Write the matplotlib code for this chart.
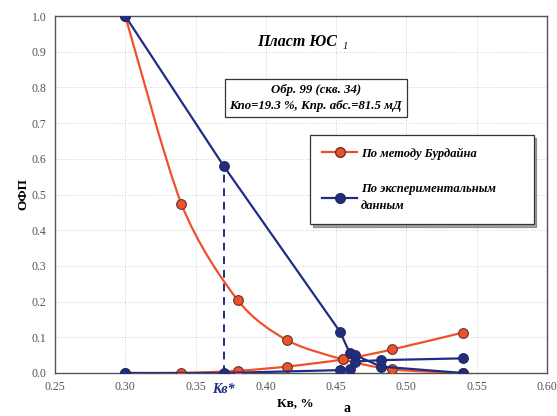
import matplotlib.pyplot as plt
from matplotlib.path import Path
from matplotlib.patches import PathPatch

# данные
kv_burd = [0.30, 0.34, 0.38, 0.415, 0.455, 0.49, 0.54]
kro_burd = [1.0, 0.473, 0.204, 0.092, 0.038, 0.010, 0.0]
krw_burd = [0.0, 0.0, 0.006, 0.018, 0.038, 0.066, 0.113]

kv_exp = [0.30, 0.37, 0.4527, 0.4598, 0.4634, 0.4819, 0.54]
kro_exp = [1.0, 0.58, 0.116, 0.055, 0.050, 0.018, 0.0]
krw_exp = [0.0, 0.0, 0.008, 0.010, 0.032, 0.036, 0.041]

kv_star = 0.37
xticks = [0.25, 0.30, 0.35, 0.40, 0.45, 0.50, 0.55, 0.60]
yticks = [0.0, 0.1, 0.2, 0.3, 0.4, 0.5, 0.6, 0.7, 0.8, 0.9, 1.0]

RED = '#f0502c'
BLUE = '#1f2d86'
serif = 'Liberation Serif'


def smooth_path(x, y, k=1 / 7):
    # сглаженная линия как в Excel (кривые Безье через точки)
    pts = list(zip(x, y))
    n = len(pts)
    verts = [pts[0]]
    codes = [Path.MOVETO]
    for i in range(n - 1):
        p0 = pts[i - 1] if i > 0 else pts[i]
        p1 = pts[i]
        p2 = pts[i + 1]
        p3 = pts[i + 2] if i + 2 < n else pts[i + 1]
        c1 = (p1[0] + (p2[0] - p0[0]) * k, p1[1] + (p2[1] - p0[1]) * k)
        c2 = (p2[0] - (p3[0] - p1[0]) * k, p2[1] - (p3[1] - p1[1]) * k)
        verts += [c1, c2, p2]
        codes += [Path.CURVE4] * 3
    return Path(verts, codes)


fig = plt.figure(figsize=(5.57, 4.16), dpi=100)
ax = fig.add_axes([0.0987, 0.1034, 0.8833, 0.8581])

# красные кривые (метод Бурдайна) - сглаженные
for yy in (kro_burd, krw_burd):
    ax.add_patch(PathPatch(smooth_path(kv_burd, yy), fill=False, edgecolor=RED, lw=1.6, zorder=3))
    ax.plot(kv_burd, yy, ls='none', marker='o', ms=7, mfc=RED, mec='#5a3a2a', mew=0.8, zorder=4)

# синие (эксперимент)
for yy in (kro_exp, krw_exp):
    ax.plot(kv_exp, yy, color=BLUE, lw=1.6, marker='o', ms=7, mfc=BLUE, mec='#2a2a4a', mew=0.8, zorder=5)

ax.plot([kv_star, kv_star], [0, kro_exp[1]], color=BLUE, ls=(0, (4, 3)), lw=1.4, zorder=2)

ax.set_xlim(0.25, 0.60)
ax.set_ylim(0, 1.0)
ax.set_xticks(xticks)
ax.set_yticks(yticks)
ax.set_xticklabels([f'{t:.2f}' for t in xticks], fontfamily=serif, fontsize=8.5, color='#555555')
ax.set_yticklabels([f'{t:.1f}' for t in yticks], fontfamily=serif, fontsize=8.5, color='#555555')
ax.tick_params(length=0, pad=6)
ax.grid(True, color='#d0d0d0', ls=':', lw=0.7)
for s in ax.spines.values():
    s.set_color('#555555')
    s.set_linewidth(1.0)

ax.text(kv_star, -0.045, 'Кв*', color=BLUE, fontfamily=serif, fontweight='bold', fontstyle='italic',
        fontsize=10, ha='center', va='center')

ax.set_ylabel('ОФП', fontfamily=serif, fontweight='bold', fontsize=9.5, labelpad=2)
fig.text(0.53, 0.03, 'Кв, %', fontfamily=serif, fontweight='bold', fontsize=9.5, ha='center', va='center')
fig.text(0.623, 0.018, 'а', fontfamily=serif, fontweight='bold', fontsize=10, ha='center', va='center')

ax.text(0.4225, 0.927, 'Пласт ЮС', fontfamily=serif, fontweight='bold', fontstyle='italic',
        fontsize=11.5, ha='center', va='center')
ax.text(0.4545, 0.916, '1', fontfamily=serif, fontstyle='italic', fontsize=7.5, ha='left', va='center')
ax.text(0.4356, 0.77, 'Обр. 99 (скв. 34)\nКпо=19.3 %, Кпр. абс.=81.5 мД', fontfamily=serif,
        fontweight='bold', fontstyle='italic', fontsize=9.2, ha='center', va='center', linespacing=1.5,
        bbox=dict(boxstyle='square,pad=0.35', fc='white', ec='#333333', lw=0.9), zorder=6)

h1, = ax.plot([], [], color=RED, lw=1.6, marker='o', ms=7, mfc=RED, mec='#5a3a2a')
h2, = ax.plot([], [], color=BLUE, lw=1.6, marker='o', ms=7, mfc=BLUE, mec='#2a2a4a')
leg = ax.legend([h1, h2], ['По методу Бурдайна', 'По экспериментальным\nданным'],
                loc='upper left', bbox_to_anchor=(0.518, 0.431, 0.455, 0.236), mode='expand',
                borderaxespad=0, frameon=True, fancybox=False,
                shadow=True, edgecolor='#333333', handlelength=2.8, handletextpad=0.3,
                borderpad=1.0, labelspacing=1.9,
                prop=dict(family=serif, weight='bold', style='italic', size=9))
for t in leg.get_texts():
    t.set_linespacing(1.5)
leg.get_frame().set_linewidth(0.9)
leg.set_zorder(7)

fig.savefig('out.png', dpi=100, facecolor='white')
